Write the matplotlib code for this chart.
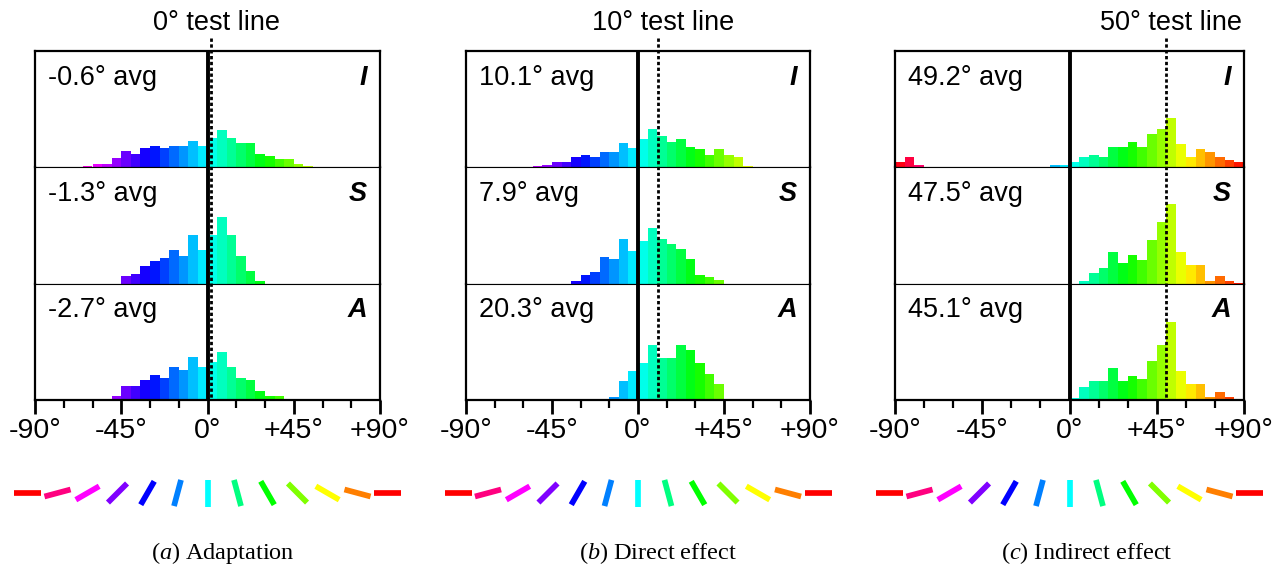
import numpy as np
import matplotlib
matplotlib.use("Agg")
import matplotlib.pyplot as plt
from matplotlib.colors import hsv_to_rgb
from matplotlib import transforms
from matplotlib.lines import Line2D

plt.rcParams['font.family'] = ['Liberation Sans', 'DejaVu Sans']
plt.rcParams['mathtext.fontset'] = 'custom'
plt.rcParams['mathtext.rm'] = 'Liberation Serif'
plt.rcParams['mathtext.it'] = 'Liberation Serif:italic'

W, H = 1278, 572

# histogram bins: 5 degree wide, left edges -90 .. 85
bin_left = np.arange(-90, 90, 5)
tick_major = [-90, -45, 0, 45, 90]
tick_labels = ['-90°', '-45°', '0°', '+45°', '+90°']
tick_minor = [-75, -60, -30, -15, 15, 30, 60, 75]
seg_angles = np.arange(-90, 91, 15)

row_names = ['I', 'S', 'A']
test_angles = [0, 10, 50]
test_drawn = [2, 10.5, 50]   # where the dotted line is drawn
captions = [r'($\mathit{a}$) Adaptation', r'($\mathit{b}$) Direct effect',
            r'($\mathit{c}$) Indirect effect']
avgs = [['-0.6', '-1.3', '-2.7'], ['10.1', '7.9', '20.3'], ['49.2', '47.5', '45.1']]

# (a) adaptation
adapt_I = [0, 0, 0, 0, 0, 5, 10, 10, 27, 50, 40, 59, 65, 59, 65, 65, 80, 65,
           89, 113, 89, 74, 74, 41, 35, 26, 26, 11, 5, 0, 0, 0, 0, 0, 0, 0]
adapt_S = [0, 0, 0, 0, 0, 0, 0, 0, 0, 22, 28, 52, 67, 76, 100, 82, 145, 100,
           145, 199, 145, 82, 37, 7, 0, 0, 0, 0, 0, 0, 0, 0, 0, 0, 0, 0]
adapt_A = [0, 0, 0, 0, 0, 0, 0, 0, 12, 42, 42, 60, 75, 66, 99, 90, 129, 99,
           114, 144, 99, 66, 60, 27, 12, 12, 0, 0, 0, 0, 0, 0, 0, 0, 0, 0]
# (b) direct effect
direct_I = [0, 0, 0, 0, 0, 0, 0, 3, 8, 17, 17, 32, 38, 32, 47, 47, 72, 57,
            86, 116, 95, 77, 86, 62, 56, 38, 56, 38, 32, 3, 0, 0, 0, 0, 0, 0]
direct_S = [0, 0, 0, 0, 0, 0, 0, 0, 0, 0, 0, 9, 25, 34, 79, 73, 133, 97,
            127, 166, 133, 118, 103, 73, 25, 19, 10, 0, 0, 0, 0, 0, 0, 0, 0, 0]
direct_A = [0, 0, 0, 0, 0, 0, 0, 0, 0, 0, 0, 0, 0, 0, 4, 10, 58, 88,
            112, 166, 127, 127, 166, 151, 112, 79, 49, 0, 4, 0, 0, 0, 0, 0, 0, 0]
# (c) indirect effect
indirect_I = [17, 32, 8, 2, 2, 0, 0, 0, 0, 0, 0, 0, 0, 0, 0, 0, 8, 8,
              17, 32, 38, 32, 62, 62, 77, 62, 101, 116, 149, 71, 32, 56, 47, 32, 23, 17]
indirect_S = [0, 0, 0, 0, 0, 0, 0, 0, 0, 0, 0, 0, 0, 0, 0, 0, 0, 0,
              0, 8, 32, 47, 95, 62, 86, 71, 131, 185, 239, 95, 56, 56, 8, 23, 8, 3]
indirect_A = [0, 0, 0, 0, 0, 0, 0, 0, 0, 0, 0, 0, 0, 0, 0, 0, 0, 0,
              6, 40, 58, 58, 97, 58, 73, 64, 118, 166, 235, 88, 49, 49, 10, 25, 10, 4]

panels = [[adapt_I, adapt_S, adapt_A],
          [direct_I, direct_S, direct_A],
          [indirect_I, indirect_S, indirect_A]]


def hue_color(angle):
    h = (0.5 - np.asarray(angle) / 180.0) % 1.0
    hsv = np.stack([h, np.ones_like(h), np.ones_like(h)], axis=-1)
    return hsv_to_rgb(hsv)


def fbox(l, t, r, b):
    return [l / W, 1 - b / H, (r - l) / W, (b - t) / H]


fig = plt.figure(figsize=(W / 100, H / 100), dpi=100)

pan_l = [35, 466, 895]
pan_r = [380, 810, 1244]
top, bot = 51, 400
rh = (bot - top) / 3
cap_x = [223, 658, 1087]

bar_colors = hue_color(bin_left + 2.5)

for p in range(3):
    for r in range(3):
        t = top + r * rh
        ax = fig.add_axes(fbox(pan_l[p], t, pan_r[p], t + rh))
        ax.bar(bin_left, panels[p][r], width=5, align='edge',
               color=bar_colors, linewidth=0, zorder=1)
        ax.axvline(0, color='black', lw=2.8, zorder=3)
        ax.set_xlim(-90, 90)
        ax.set_ylim(0, 349)
        ax.set_yticks([])
        for s in ['left', 'right']:
            ax.spines[s].set_linewidth(1.6)
        ax.spines['top'].set_linewidth(1.6 if r == 0 else 0.8)
        ax.spines['bottom'].set_linewidth(1.6 if r == 2 else 0.8)
        ax.text(0.038, 0.77, avgs[p][r] + '° avg', transform=ax.transAxes,
                fontsize=19.5, ha='left', va='center')
        ax.text(0.962, 0.77, row_names[r], transform=ax.transAxes,
                fontsize=19.5, fontweight='bold', fontstyle='italic',
                ha='right', va='center')
        if r == 2:
            ax.set_xticks(tick_major)
            ax.set_xticklabels(tick_labels)
            ax.set_xticks(tick_minor, minor=True)
            ax.tick_params(which='major', direction='out', length=10, width=2,
                           labelsize=20.5, pad=3)
            ax.tick_params(which='minor', direction='out', length=5.5, width=1.6)
        else:
            ax.set_xticks([])
        if r == 0:
            tr = transforms.blended_transform_factory(ax.transData, fig.transFigure)
            ax.text(test_drawn[p] + 2.5, 1 - 23 / H,
                    str(test_angles[p]) + '° test line',
                    transform=tr, fontsize=19.5, ha='center', va='center')
            fig.add_artist(Line2D([test_drawn[p], test_drawn[p]],
                                  [1 - 38 / H, 1 - bot / H], transform=tr,
                                  color='black', lw=2, linestyle=(0, (1.2, 0.9)),
                                  zorder=5))

    # orientation key under each panel
    cx = (pan_l[p] + pan_r[p]) / 2
    sax = fig.add_axes(fbox(cx - 195, 478, cx + 195, 508))
    sax.set_xlim(-0.5, len(seg_angles) - 0.5)
    sax.set_ylim(-0.5, 0.5)
    sax.axis('off')
    seg_cols = hue_color(seg_angles)
    for i, a in enumerate(seg_angles):
        dx = -np.sin(np.radians(a)) * 0.45
        dy = np.cos(np.radians(a)) * 0.45
        sax.plot([i - dx, i + dx], [-dy, dy], color=seg_cols[i], lw=4.1,
                 solid_capstyle='butt')

    fig.text(cap_x[p] / W, 1 - 553 / H, captions[p], family='Liberation Serif',
             fontsize=17.5, ha='center', va='center')

fig.savefig('out.png', dpi=100)
